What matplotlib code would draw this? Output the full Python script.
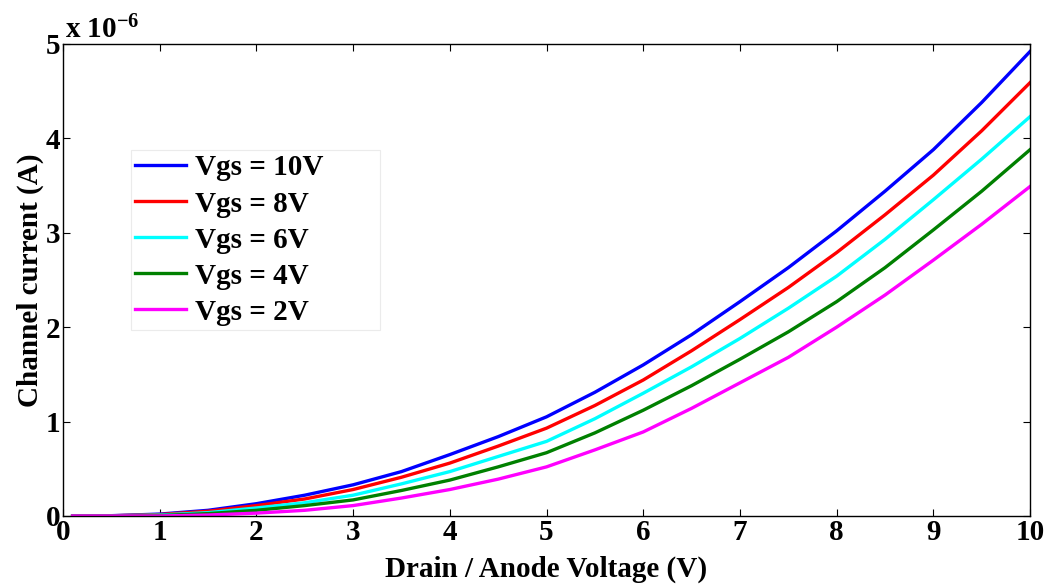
import numpy as np
import matplotlib
matplotlib.use("Agg")
import matplotlib.pyplot as plt
from matplotlib.ticker import FuncFormatter

# Drain voltage (V) and channel current (in units of 1e-6 A)
vd = [0.1, 0.5, 1.0, 1.5, 2.0, 2.5, 3.0, 3.5, 4.0, 4.5, 5.0,
      5.5, 6.0, 6.5, 7.0, 7.5, 8.0, 8.5, 9.0, 9.5, 10.0]
i_vgs10 = [0.0, 0.003, 0.02, 0.06, 0.13, 0.22, 0.33, 0.47, 0.65, 0.84, 1.05,
           1.31, 1.60, 1.92, 2.27, 2.63, 3.02, 3.44, 3.88, 4.38, 4.92]
i_vgs8 = [0.0, 0.002, 0.015, 0.05, 0.11, 0.18, 0.28, 0.41, 0.56, 0.74, 0.93,
          1.17, 1.44, 1.75, 2.08, 2.42, 2.79, 3.19, 3.61, 4.08, 4.59]
i_vgs6 = [0.0, 0.001, 0.01, 0.035, 0.085, 0.14, 0.22, 0.34, 0.47, 0.63, 0.79,
          1.03, 1.30, 1.58, 1.88, 2.20, 2.54, 2.93, 3.35, 3.78, 4.23]
i_vgs4 = [0.0, 0.0, 0.005, 0.025, 0.06, 0.11, 0.17, 0.27, 0.38, 0.52, 0.67,
          0.88, 1.12, 1.38, 1.66, 1.95, 2.27, 2.63, 3.03, 3.44, 3.88]
i_vgs2 = [0.0, 0.0, 0.0, 0.01, 0.03, 0.06, 0.11, 0.19, 0.28, 0.39, 0.52,
          0.70, 0.89, 1.14, 1.41, 1.68, 2.00, 2.34, 2.71, 3.09, 3.49]

labels = ["Vgs = 10V", "Vgs = 8V", "Vgs = 6V", "Vgs = 4V", "Vgs = 2V"]
colors = ["#0000ff", "#ff0000", "#00ffff", "#008000", "#ff00ff"]
series = [i_vgs10, i_vgs8, i_vgs6, i_vgs4, i_vgs2]

plt.rcParams['font.family'] = ['Liberation Serif', 'DejaVu Serif']
plt.rcParams['font.weight'] = 'bold'
plt.rcParams['mathtext.fontset'] = 'custom'
plt.rcParams['mathtext.rm'] = 'Liberation Serif:bold'
plt.rcParams['mathtext.bf'] = 'Liberation Serif:bold'
plt.rcParams['mathtext.default'] = 'rm'

fs = 21

fig = plt.figure(figsize=(10.49, 5.85), dpi=100)
ax = fig.add_axes([0.060, 0.118, 0.922, 0.807])

for cur, lab, col in zip(series, labels, colors):
    ax.plot(vd, np.array(cur) * 1e-6, color=col, lw=2.4, label=lab)

ax.set_xlim(0, 10)
ax.set_ylim(0, 5e-6)
ax.set_xticks(np.arange(0, 11, 1))
ax.set_yticks(np.arange(0, 6, 1) * 1e-6)
ax.yaxis.set_major_formatter(FuncFormatter(lambda v, p: f"{v / 1e-6:.0f}"))
ax.tick_params(direction='in', top=True, right=True, length=5, width=0.8,
               labelsize=fs, pad=2)
for lab in ax.get_xticklabels() + ax.get_yticklabels():
    lab.set_fontweight('bold')
for sp in ax.spines.values():
    sp.set_linewidth(1.0)

ax.set_xlabel("Drain / Anode Voltage (V)", fontsize=fs, fontweight='bold', labelpad=7)
ax.set_ylabel("Channel current (A)", fontsize=fs, fontweight='bold', labelpad=1)
ax.text(0.002, 1.0, "x 10$^{-6}$", transform=ax.transAxes,
        fontsize=fs, fontweight='bold', ha='left', va='bottom')

leg = ax.legend(loc='upper left', bbox_to_anchor=(0.0703, 0.0, 0.2575, 0.775),
                mode='expand', frameon=True, fancybox=False,
                handlelength=1.75, handletextpad=0.3,
                borderpad=0.15, labelspacing=0.31, borderaxespad=0,
                prop={'weight': 'bold', 'size': fs})
leg.get_frame().set_edgecolor('#e6e6e6')
leg.get_frame().set_linewidth(0.8)

fig.savefig("out.png", dpi=100)
